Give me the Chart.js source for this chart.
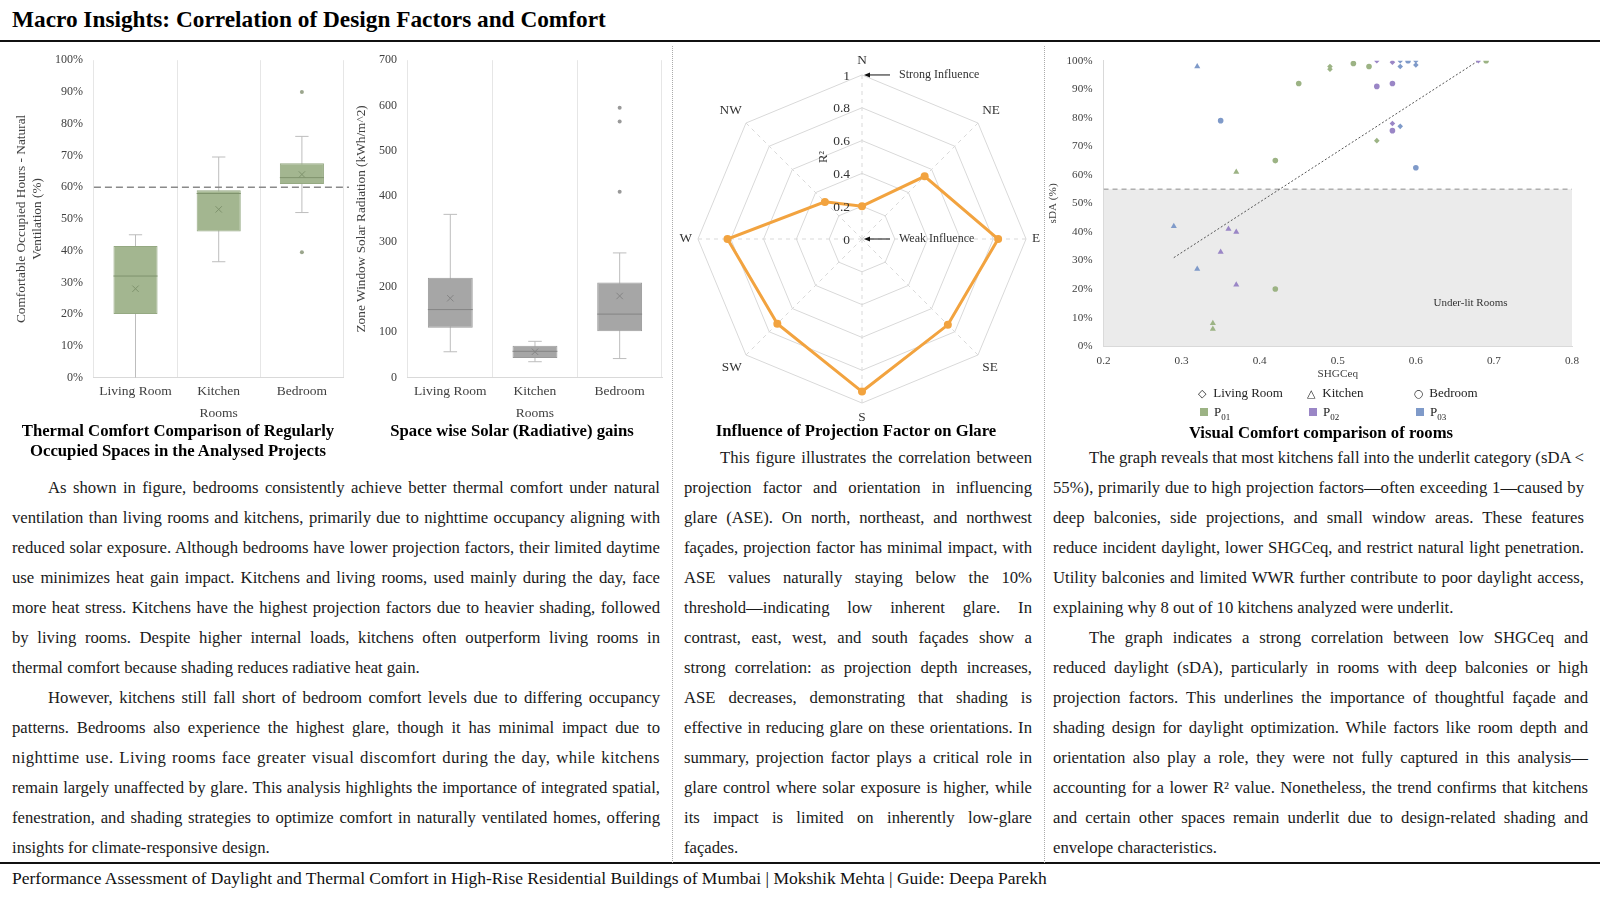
<!DOCTYPE html>
<html>
<head>
<meta charset="utf-8">
<script src="https://cdn.jsdelivr.net/npm/chart.js@4.4.1/dist/chart.umd.min.js"></script>
<style>
body{margin:0;width:1600px;height:900px;position:relative;background:#fff;font-family:'Liberation Serif','Times New Roman',serif;color:#1a1a1a;overflow:hidden}
h1{position:absolute;left:12px;top:6px;margin:0;font-size:23.3px;font-weight:bold;color:#000}
.rule{position:absolute;left:0;width:1600px;height:2px;background:#111}
.vsep{position:absolute;top:46px;height:817px;border-left:1px dotted #aaa}
.box{position:absolute}
.cap{position:absolute;font-weight:bold;font-size:16.7px;text-align:center;line-height:20.4px;color:#000}
.para{position:absolute;font-size:16.7px;line-height:30px;text-align:justify}
.para p{margin:0;text-indent:36px}
.tight::first-line{word-spacing:-0.6px}
.leg{position:absolute;font-size:13px;color:#222;white-space:nowrap}
.leg .g{font-family:'DejaVu Sans';font-size:11px;display:inline-block;width:12px}
.leg .sq{display:inline-block;width:8px;height:8px;margin-right:6px}
.footer{position:absolute;left:12px;top:868px;font-size:17.5px;color:#111}
</style>
</head>
<body>
<h1>Macro Insights: Correlation of Design Factors and Comfort</h1>
<div class="rule" style="top:40px"></div>
<div class="rule" style="top:862px"></div>
<div class="vsep" style="left:672px"></div>
<div class="vsep" style="left:1044px"></div>

<div class="box" style="left:0;top:50px;width:349px;height:376px"><canvas id="comfortChart"></canvas></div>
<div class="box" style="left:348px;top:50px;width:320px;height:376px"><canvas id="solarChart"></canvas></div>
<div class="box" style="left:676px;top:53px;width:368px;height:372px"><canvas id="glareChart"></canvas></div>
<div class="box" style="left:1042px;top:51px;width:546px;height:334px"><canvas id="sdaChart"></canvas></div>

<div class="leg" style="left:1198px;top:385px"><span class="g">◇</span> Living Room</div>
<div class="leg" style="left:1307px;top:385px"><span class="g">△</span> Kitchen</div>
<div class="leg" style="left:1414px;top:385px"><span class="g">○</span> Bedroom</div>
<div class="leg" style="left:1200px;top:404px"><span class="sq" style="background:#9cb384"></span>P<sub style="font-size:9px">01</sub></div>
<div class="leg" style="left:1309px;top:404px"><span class="sq" style="background:#9a86c6"></span>P<sub style="font-size:9px">02</sub></div>
<div class="leg" style="left:1416px;top:404px"><span class="sq" style="background:#7f9ac9"></span>P<sub style="font-size:9px">03</sub></div>

<div class="cap" style="left:8px;width:340px;top:421px">Thermal Comfort Comparison of Regularly<br>Occupied Spaces in the Analysed Projects</div>
<div class="cap" style="left:352px;width:320px;top:421px">Space wise Solar (Radiative) gains</div>
<div class="cap" style="left:676px;width:360px;top:421px">Influence of Projection Factor on Glare</div>
<div class="cap" style="left:1051px;width:540px;top:423px">Visual Comfort comparison of rooms</div>

<div class="para" style="left:12px;top:473px;width:648px">
<p>As shown in figure, bedrooms consistently achieve better thermal comfort under natural ventilation than living rooms and kitchens, primarily due to nighttime occupancy aligning with reduced solar exposure. Although bedrooms have lower projection factors, their limited daytime use minimizes heat gain impact. Kitchens and living rooms, used mainly during the day, face more heat stress. Kitchens have the highest projection factors due to heavier shading, followed by living rooms. Despite higher internal loads, kitchens often outperform living rooms in thermal comfort because shading reduces radiative heat gain.</p>
<p>However, kitchens still fall short of bedroom comfort levels due to differing occupancy patterns. Bedrooms also experience the highest glare, though it has minimal impact due to <span style="letter-spacing:0.4px">nighttime use. Living rooms face greater visual discomfort during the day, while kitchens</span> <span style="word-spacing:-1.5px">remain largely unaffected by glare. This analysis highlights the importance of integrated spatial,</span> fenestration, and shading strategies to optimize comfort in naturally ventilated homes, offering insights for climate-responsive design.</p>
</div>
<div class="para" style="left:684px;top:443px;width:348px">
<p>This figure illustrates the correlation between projection factor and orientation in influencing glare (ASE). On north, northeast, and northwest façades, projection factor has minimal impact, with ASE values naturally staying below the 10% threshold—indicating low inherent glare. In contrast, east, west, and south façades show a strong correlation: as projection depth increases, ASE decreases, demonstrating that shading is effective in reducing glare on these orientations. In summary, projection factor plays a critical role in glare control where solar exposure is higher, while its impact is limited on inherently low-glare façades.</p>
</div>
<div class="para" style="left:1053px;top:443px;width:535px">
<p class="tight" style="margin-right:4px">The graph reveals that most kitchens fall into the underlit category (sDA &lt; 55%), primarily due to high projection factors—often exceeding 1—caused by deep balconies, side projections, and small window areas. These features reduce incident daylight, lower SHGCeq, and restrict natural light penetration. Utility balconies and limited WWR further contribute to poor daylight access, explaining why 8 out of 10 kitchens analyzed were underlit.</p>
<p>The graph indicates a strong correlation between low SHGCeq and reduced daylight (sDA), particularly in rooms with deep balconies or high projection factors. This underlines the importance of thoughtful façade and shading design for daylight optimization. While factors like room depth and orientation also play a role, they were not fully captured in this analysis—accounting for a lower R² value. Nonetheless, the trend confirms that kitchens and certain other spaces remain underlit due to design-related shading and envelope characteristics.</p>
</div>

<div class="footer">Performance Assessment of Daylight and Thermal Comfort in High-Rise Residential Buildings of Mumbai | Mokshik Mehta | Guide: Deepa Parekh</div>

<script>
var rooms = ['Living Room', 'Kitchen', 'Bedroom'];

// comfortable occupied hours, natural ventilation (%)
var comfortMin = [0, 36.5, 52];
var comfortQ1 = [20, 46, 61];
var comfortMedian = [32, 58, 63];
var comfortQ3 = [41.5, 59, 67.5];
var comfortMax = [45, 69.5, 76];
var comfortMean = [28, 53, 64];
var comfortOutliers = [[], [], [90, 39.5]];
var comfortThreshold = 60;

// zone window solar radiation (kWh/m2)
var solarMin = [57, 35, 42];
var solarQ1 = [110, 43, 102];
var solarMedian = [150, 58, 140];
var solarQ3 = [220, 70, 210];
var solarMax = [360, 80, 275];
var solarMean = [175, 57, 180];
var solarOutliers = [[], [], [410, 565, 595]];

// glare R2 by orientation
var directions = ['N', 'NE', 'E', 'SE', 'S', 'SW', 'W', 'NW'];
var glareR2 = [0.2, 0.54, 0.83, 0.74, 0.93, 0.73, 0.82, 0.32];
var r2Ticks = [0, 0.2, 0.4, 0.6, 0.8, 1];

// sDA vs SHGCeq, [SHGCeq, sDA %]
var p01Living = [[0.49, 98], [0.49, 97], [0.55, 72]];
var p01Kitchen = [[0.37, 61], [0.34, 8], [0.34, 6]];
var p01Bedroom = [[0.42, 65], [0.42, 20], [0.45, 92], [0.52, 99], [0.54, 98], [0.69, 100]];
var p02Living = [[0.55, 100], [0.57, 99.5], [0.68, 100], [0.57, 78]];
var p02Kitchen = [[0.36, 41], [0.37, 40], [0.37, 21.5], [0.35, 33]];
var p02Bedroom = [[0.55, 91], [0.57, 92], [0.57, 75.5]];
var p03Living = [[0.58, 100], [0.58, 98], [0.6, 100], [0.6, 98.5], [0.58, 77]];
var p03Kitchen = [[0.32, 98], [0.29, 42], [0.32, 27]];
var p03Bedroom = [[0.35, 79], [0.59, 100], [0.6, 62.5]];
var trendX = [0.29, 0.68];
var trendY = [31, 100];
var underlitLimit = 55;

Chart.defaults.font.family = "'Liberation Serif', 'Times New Roman', serif";
Chart.defaults.color = '#404040';
Chart.defaults.animation = false;

function boxChart(id, s, st) {
    var outlierPts = [];
    s.outliers.forEach(function (list, i) {
        list.forEach(function (v) { outlierPts.push({ x: rooms[i], y: v }); });
    });
    var boxPlugin = {
        id: 'box_' + id,
        beforeDatasetsDraw: function (chart) {
            var ctx = chart.ctx, x = chart.scales.x, y = chart.scales.y;
            var cap = (x.width / rooms.length) * 0.08;
            ctx.save();
            ctx.strokeStyle = '#bdbdbd';
            ctx.lineWidth = 1;
            rooms.forEach(function (r, i) {
                var cx = x.getPixelForValue(i);
                var y0 = y.getPixelForValue(s.min[i]), y1 = y.getPixelForValue(s.max[i]);
                ctx.beginPath();
                ctx.moveTo(cx, y0); ctx.lineTo(cx, y1);
                if (s.min[i] > 0) { ctx.moveTo(cx - cap, y0); ctx.lineTo(cx + cap, y0); }
                ctx.moveTo(cx - cap, y1); ctx.lineTo(cx + cap, y1);
                ctx.stroke();
            });
            ctx.restore();
        },
        afterDatasetDraw: function (chart, args) {
            if (args.meta.type !== 'bar') return;
            var ctx = chart.ctx, y = chart.scales.y;
            ctx.save();
            ctx.strokeStyle = st.dark;
            ctx.lineWidth = 1;
            args.meta.data.forEach(function (b, i) {
                var ym = y.getPixelForValue(s.median[i]);
                ctx.beginPath();
                ctx.moveTo(b.x - b.width / 2, ym);
                ctx.lineTo(b.x + b.width / 2, ym);
                ctx.stroke();
            });
            ctx.restore();
        },
        afterDatasetsDraw: function (chart) {
            if (s.threshold == null) return;
            var ctx = chart.ctx, y = chart.scales.y, a = chart.chartArea;
            var yt = y.getPixelForValue(s.threshold);
            ctx.save();
            ctx.strokeStyle = '#8a8a8a';
            ctx.lineWidth = 1.5;
            ctx.setLineDash([7, 4]);
            ctx.beginPath();
            ctx.moveTo(a.left, yt);
            ctx.lineTo(chart.width, yt);
            ctx.stroke();
            ctx.restore();
        }
    };
    return new Chart(document.getElementById(id), {
        type: 'bar',
        data: {
            labels: rooms,
            datasets: [
                { type: 'line', data: outlierPts, showLine: false, pointRadius: 2, pointBackgroundColor: st.dot, pointBorderWidth: 0, order: 0 },
                { type: 'line', data: s.mean, showLine: false, pointStyle: 'crossRot', pointRadius: 4.5, pointBorderColor: st.dark, pointBorderWidth: 1, order: 1 },
                { type: 'bar', data: s.q1.map(function (v, i) { return [v, s.q3[i]]; }), backgroundColor: st.fill, borderColor: st.edge, borderWidth: 1, borderSkipped: false, barPercentage: 0.53, categoryPercentage: 1, order: 2 }
            ]
        },
        options: {
            maintainAspectRatio: false,
            responsive: true,
            layout: { padding: { left: st.padLeft, right: st.padRight, top: 5 } },
            plugins: { legend: { display: false }, tooltip: { enabled: false } },
            scales: {
                x: {
                    grid: { color: '#e6e6e6', offset: true, drawTicks: false },
                    border: { color: '#d9d9d9' },
                    ticks: { font: { size: 13.5 }, color: '#404040', padding: 6 },
                    title: { display: true, text: 'Rooms', font: { size: 13.5 }, color: '#404040', padding: { top: 0 } }
                },
                y: {
                    min: 0, max: s.max_axis,
                    grid: { display: false },
                    border: { display: false },
                    ticks: { stepSize: s.step, font: { size: 12 }, color: '#404040', callback: st.fmt },
                    title: { display: true, text: st.title, font: { size: 13.3 }, color: '#404040', padding: { bottom: 6 } }
                }
            }
        },
        plugins: [boxPlugin]
    });
}

boxChart('comfortChart', {
    min: comfortMin, q1: comfortQ1, median: comfortMedian, q3: comfortQ3, max: comfortMax,
    mean: comfortMean, outliers: comfortOutliers, threshold: comfortThreshold, max_axis: 100, step: 10
}, {
    fill: '#a3b690', edge: '#95a982', dark: '#7f936d', dot: '#9ba68d', padLeft: 10, padRight: 1,
    title: ['Comfortable Occupied Hours - Natural', 'Ventilation (%)'],
    fmt: function (v) { return v + '%'; }
});

boxChart('solarChart', {
    min: solarMin, q1: solarQ1, median: solarMedian, q3: solarQ3, max: solarMax,
    mean: solarMean, outliers: solarOutliers, threshold: null, max_axis: 700, step: 100
}, {
    fill: '#a6a6a6', edge: '#9a9a9a', dark: '#858585', dot: '#999999', padLeft: 2, padRight: 6,
    title: 'Zone Window Solar Radiation (kWh/m^2)',
    fmt: function (v) { return v; }
});

// radar: glare vs projection factor
var radarExtras = {
    id: 'radarExtras',
    afterDraw: function (chart) {
        var ctx = chart.ctx, r = chart.scales.r;
        ctx.save();
        ctx.fillStyle = '#333';
        ctx.font = "13.5px 'Liberation Serif'";
        ctx.textAlign = 'right';
        ctx.textBaseline = 'middle';
        r2Ticks.forEach(function (v) {
            var p = r.getPointPositionForValue(0, v);
            ctx.fillText(String(v), p.x - 12, p.y + 1);
        });
        // R2 axis label
        var pr = r.getPointPositionForValue(0, 0.5);
        ctx.save();
        ctx.translate(pr.x - 38, pr.y);
        ctx.rotate(-Math.PI / 2);
        ctx.textAlign = 'center';
        ctx.font = "12.5px 'Liberation Serif'";
        ctx.fillText('R²', 0, 0);
        ctx.restore();
        // influence annotations
        var top = r.getPointPositionForValue(0, 1);
        var mid = r.getPointPositionForValue(0, 0);
        ctx.textAlign = 'left';
        ctx.font = "12px 'Liberation Serif'";
        [[top, 'Strong Influence'], [mid, 'Weak Influence']].forEach(function (a) {
            var p = a[0];
            ctx.strokeStyle = '#111';
            ctx.fillStyle = '#111';
            ctx.lineWidth = 1;
            ctx.beginPath();
            ctx.moveTo(p.x + 28, p.y);
            ctx.lineTo(p.x + 6, p.y);
            ctx.stroke();
            ctx.beginPath();
            ctx.moveTo(p.x + 2, p.y);
            ctx.lineTo(p.x + 8, p.y - 2.5);
            ctx.lineTo(p.x + 8, p.y + 2.5);
            ctx.closePath();
            ctx.fill();
            ctx.fillStyle = '#333';
            ctx.fillText(a[1], p.x + 37, p.y);
        });
        ctx.restore();
    }
};

new Chart(document.getElementById('glareChart'), {
    type: 'radar',
    data: {
        labels: directions,
        datasets: [{
            data: glareR2,
            borderColor: '#f2a33f',
            backgroundColor: '#f2a33f',
            pointBackgroundColor: '#f2a33f',
            pointBorderWidth: 0,
            pointRadius: 4,
            borderWidth: 3,
            fill: false
        }]
    },
    options: {
        maintainAspectRatio: false,
        responsive: true,
        layout: { padding: 0 },
        plugins: { legend: { display: false }, tooltip: { enabled: false } },
        scales: {
            r: {
                min: 0, max: 1,
                ticks: { display: false, stepSize: 0.2 },
                grid: { color: '#d9d9d9' },
                angleLines: { color: '#d9d9d9', borderDash: [4, 4] },
                pointLabels: { font: { size: 13.3 }, color: '#333', padding: 6 }
            }
        }
    },
    plugins: [radarExtras]
});

// scatter: sDA vs SHGCeq
function pts(list) { return list.map(function (p) { return { x: p[0], y: p[1] }; }); }
var colP01 = '#9cb384', colP02 = '#9a86c6', colP03 = '#7f9ac9';
function ser(list, color, shape) {
    return { type: 'scatter', data: pts(list), pointStyle: shape, pointRadius: shape === 'triangle' ? 3.5 : 2.8, backgroundColor: color, borderColor: color, pointBorderWidth: 0, order: 1 };
}

var underlitText = {
    id: 'underlitText',
    afterDraw: function (chart) {
        var ctx = chart.ctx, x = chart.scales.x, y = chart.scales.y;
        ctx.save();
        ctx.fillStyle = '#333';
        ctx.font = "11px 'Liberation Serif'";
        ctx.textAlign = 'center';
        ctx.textBaseline = 'middle';
        ctx.fillText('Under-lit Rooms', x.getPixelForValue(0.67), y.getPixelForValue(15));
        ctx.restore();
    }
};

new Chart(document.getElementById('sdaChart'), {
    type: 'scatter',
    data: {
        datasets: [
            ser(p01Living, colP01, 'rectRot'), ser(p01Kitchen, colP01, 'triangle'), ser(p01Bedroom, colP01, 'circle'),
            ser(p02Living, colP02, 'rectRot'), ser(p02Kitchen, colP02, 'triangle'), ser(p02Bedroom, colP02, 'circle'),
            ser(p03Living, colP03, 'rectRot'), ser(p03Kitchen, colP03, 'triangle'), ser(p03Bedroom, colP03, 'circle'),
            { type: 'line', data: trendX.map(function (v, i) { return { x: v, y: trendY[i] }; }), borderColor: '#555', borderWidth: 1, borderDash: [2, 2], pointRadius: 0, fill: false, order: 2 },
            { type: 'line', data: [{ x: 0.2, y: underlitLimit }, { x: 0.8, y: underlitLimit }], borderColor: '#8c8c8c', borderWidth: 1, borderDash: [5, 4], backgroundColor: '#ebebeb', fill: 'origin', pointRadius: 0, order: 3 }
        ]
    },
    options: {
        maintainAspectRatio: false,
        responsive: true,
        layout: { padding: { left: 0, right: 16, top: 4 } },
        plugins: { legend: { display: false }, tooltip: { enabled: false } },
        scales: {
            x: {
                type: 'linear', min: 0.2, max: 0.8,
                grid: { display: false },
                border: { color: '#d9d9d9' },
                ticks: { stepSize: 0.1, font: { size: 11.2 }, color: '#404040', padding: 0, callback: function (v) { return v.toFixed(1); } },
                title: { display: true, text: 'SHGCeq', font: { size: 11.2 }, color: '#404040', padding: { top: 0 } }
            },
            y: {
                min: 0, max: 100,
                grid: { display: false },
                border: { color: '#d9d9d9' },
                ticks: { stepSize: 10, font: { size: 11.2 }, color: '#404040', callback: function (v) { return v + '%'; } },
                title: { display: true, text: 'sDA (%)', font: { size: 11.2 }, color: '#404040' }
            }
        }
    },
    plugins: [underlitText]
});
</script>
</body>
</html>
